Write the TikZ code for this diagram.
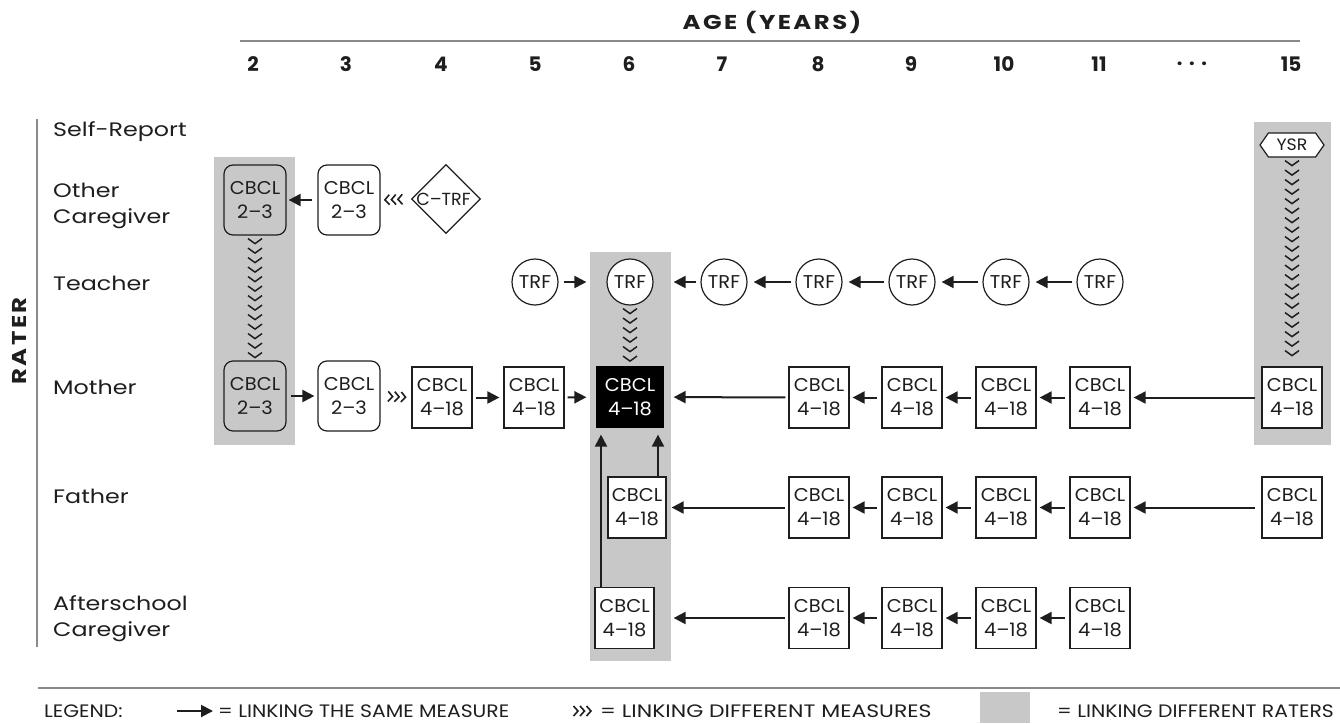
\documentclass[tikz,border=0pt]{standalone}
\usepackage{graphicx}
\usepackage{fontspec}
\setmainfont{Poppins}
\usetikzlibrary{arrows.meta,shapes.geometric,shapes.symbols,decorations.markings}
\definecolor{band}{HTML}{C8C8C8}
\definecolor{ink}{HTML}{1E1E1E}
\definecolor{rulec}{HTML}{8A8A8A}
\newcommand\stx[1]{\scalebox{1.22}[1]{#1}}
\newcommand\bx[1]{\scalebox{1.05}[1]{#1}}
\newcommand\lgx[1]{\scalebox{1.13}[1]{#1}}
\newcommand\cb[1]{\bx{CBCL}\\\bx{#1}}
\tikzset{
  boxfont/.style={font=\fontsize{18.5}{24}\selectfont},
  sq/.style={draw=ink, line width=1.2pt, boxfont, text=ink, minimum width=60pt, minimum height=61pt, inner sep=0pt, align=center, fill=white},
  rbox/.style={draw=ink, line width=1.2pt, boxfont, text=ink, rounded corners=9pt, minimum width=62pt, minimum height=70pt, inner sep=0pt, align=center},
  blk/.style={sq, fill=black, draw=black, text=white, minimum width=66pt, minimum height=60pt},
  circ/.style={circle, draw=ink, line width=1.2pt, boxfont, text=ink, minimum size=46pt, inner sep=0pt, fill=white},
  dia/.style={diamond, aspect=1, draw=ink, line width=1.2pt, font=\fontsize{17.5}{22}\selectfont, text=ink, minimum size=69pt, inner sep=-4pt, fill=white},
  hexa/.style={signal, signal to=west and east, signal pointer angle=110, draw=ink, line width=1.2pt, font=\fontsize{16.5}{20}\selectfont, text=ink, minimum width=64pt, minimum height=24pt, inner sep=0pt, fill=white},
  rowlab/.style={anchor=west, align=left, font=\fontsize{19.5}{26}\selectfont, text=ink, inner sep=0pt},
  hdr/.style={font=\fontsize{20}{24}\selectfont\bfseries\addfontfeatures{LetterSpace=10}, text=ink, inner sep=0pt},
  num/.style={font=\fontsize{20}{24}\selectfont\bfseries, text=ink, inner sep=0pt},
  leg/.style={font=\fontsize{18}{22}\selectfont, text=ink, inner sep=0pt},
  rulel/.style={draw=rulec, line width=2pt},
  arr/.style={-{Triangle[length=12pt,width=12pt]}, line width=2pt, draw=ink},
  vchev/.style={postaction={decorate}, decoration={markings, mark=between positions 8pt and -2pt step 9.5pt with {\draw[line width=1.5pt, draw=ink, line join=miter] (-5pt,-7pt) -- (0pt,0pt) -- (-5pt,7pt);}}},
  hchev/.style={postaction={decorate}, decoration={markings, mark=between positions #1 step 6.5pt with {\draw[line width=1.6pt, draw=ink, line join=miter] (-4.5pt,-5pt) -- (0pt,0pt) -- (-4.5pt,5pt);}}}
}
\begin{document}
\begin{tikzpicture}[x=1pt,y=-1pt]
\useasboundingbox (0,0) rectangle (1340,723);
% shaded bands
\fill[band] (214,157) rectangle (295,445);
\fill[band] (590,252) rectangle (671,661);
\fill[band] (1254,122) rectangle (1331,445);
% header
\node[hdr] (age) at (772,22) {\stx{AGE (YEARS)}};
\coordinate (hl1) at (240,41); \coordinate (hl2) at (1300,41);
\draw[rulel] (hl1) -- (hl2);
\foreach \x/\t [count=\i] in {253/2,346/3,441/4,535/5,629/6,722/7,818/8,911/9,1004/10,1099/11,1192/{.\,\,.\,\,.},1291/15}
  \node[num] (n\i) at (\x,64) {\t};
% rater axis
\coordinate (rl1) at (37,119); \coordinate (rl2) at (37,647);
\draw[rulel] (rl1) -- (rl2);
\node[hdr, rotate=90] (rater) at (19,341) {\stx{RATER}};
% row labels
\node[rowlab] (lself) at (53,132) {\stx{Self-Report}};
\node[rowlab] (loc) at (53,206) {\stx{Other}\\\stx{Caregiver}};
\node[rowlab] (lteach) at (53,283) {\stx{Teacher}};
\node[rowlab] (lmoth) at (53,387) {\stx{Mother}};
\node[rowlab] (lfath) at (53,496) {\stx{Father}};
\node[rowlab] (laft) at (53,619) {\stx{Afterschool}\\\stx{Caregiver}};
% other caregiver row
\node[rbox] (o2) at (255,200) {\cb{2–3}};
\node[rbox, fill=white] (o3) at (349,200) {\cb{2–3}};
\node[dia] (ctrf) at (446,199) {\kern-5pt C–TRF};
% self report
\node[hexa] (ysr) at (1292,145) {\bx{YSR}};
% teacher row
\foreach \x/\n in {535/5,630/6,724/7,819/8,912/9,1006/10,1100/11}
  \node[circ] (t\n) at (\x,282) {\bx{TRF}};
% mother row
\node[rbox] (m2) at (255,396) {\cb{2–3}};
\node[rbox, fill=white] (m3) at (349,396) {\cb{2–3}};
\node[sq] (m4) at (442,397.5) {\cb{4–18}};
\node[sq] (m5) at (534,397.5) {\cb{4–18}};
\node[blk] (m6) at (630,397) {\cb{4–18}};
\foreach \x/\n in {819/8,912/9,1006/10,1100/11,1292/15}
  \node[sq] (m\n) at (\x,397.5) {\cb{4–18}};
% father row
\node[sq, minimum width=58pt] (f6) at (637,507.5) {\cb{4–18}};
\foreach \x/\n in {819/8,912/9,1006/10,1100/11,1292/15}
  \node[sq] (f\n) at (\x,507.5) {\cb{4–18}};
% afterschool row
\node[sq, minimum width=59pt] (a6) at (624.5,618) {\cb{4–18}};
\foreach \x/\n in {819/8,912/9,1006/10,1100/11}
  \node[sq] (a\n) at (\x,618) {\cb{4–18}};
% same-measure arrows
\draw[arr, shorten <=5pt, shorten >=2pt] (o3) -- (o2);
\draw[arr, shorten <=4pt, shorten >=3pt] (m2) -- (m3);
\draw[arr, shorten <=3pt, shorten >=4pt] (m4) -- (m5);
\draw[arr, shorten <=3pt, shorten >=10pt] (m5) -- (m6);
\draw[arr, shorten <=3pt, shorten >=10pt] (m8) -- (m6);
\foreach \a/\b in {9/8,10/9,11/10} {
  \draw[arr, shorten <=4pt, shorten >=3pt] (m\a) -- (m\b);
  \draw[arr, shorten <=4pt, shorten >=3pt] (f\a) -- (f\b);
  \draw[arr, shorten <=4pt, shorten >=3pt] (a\a) -- (a\b);
}
\draw[arr, shorten <=6pt, shorten >=3pt] (m15) -- (m11);
\draw[arr, shorten <=6pt, shorten >=3pt] (f15) -- (f11);
\draw[arr, shorten <=3pt, shorten >=5pt] (f8) -- (f6);
\draw[arr, shorten <=3pt, shorten >=19pt] (a8) -- (a6);
\draw[arr, shorten <=5pt, shorten >=20pt] (t5) -- (t6);
\draw[arr, shorten <=4pt, shorten >=20pt] (t7) -- (t6);
\foreach \a/\b in {8/7,9/8,10/9,11/10}
  \draw[arr, shorten <=4pt, shorten >=6pt] (t\a) -- (t\b);
\draw[arr, shorten >=7pt] ([xshift=-23.5pt]a6.north) -- ([xshift=-23.5pt]a6.north |- m6.south);
\draw[arr, shorten >=7pt] ([xshift=21pt]f6.north) -- ([xshift=21pt]f6.north |- m6.south);
% different-measure links
\path[hchev={13pt and 27pt}] (ctrf.west) -- (o3.east);
\path[hchev={12pt and 26pt}] (m3.east) -- (m4.west);
\path[vchev] (o2) -- (m2);
\path[vchev] (t6) -- (m6);
\path[vchev] (ysr) -- (m15);
% legend
\coordinate (ll1) at (38,688); \coordinate (ll2) at (1340,688);
\draw[rulel] (ll1) -- (ll2);
\node[leg, anchor=west] (lg) at (44,711) {\lgx{LEGEND:}};
\coordinate (la1) at (177,711); \coordinate (la2) at (213,711);
\draw[arr] (la1) -- (la2);
\node[leg, anchor=west] (lt1) at (218,711) {\lgx{= LINKING THE SAME MEASURE}};
\coordinate (lc1) at (566,711); \coordinate (lc2) at (600,711);
\path[hchev={12pt and 26pt}] (lc1) -- (lc2);
\node[leg, anchor=west] (lt2) at (600,711) {\scalebox{1.22}[1]{= LINKING DIFFERENT MEASURES}};
\node[fill=band, minimum width=50pt, minimum height=31pt, inner sep=0pt, anchor=south west] (lsq) at (980,723) {};
\node[leg, anchor=east] (lt3) at (1334,711) {\lgx{= LINKING DIFFERENT RATERS}};
\end{tikzpicture}
\end{document}
